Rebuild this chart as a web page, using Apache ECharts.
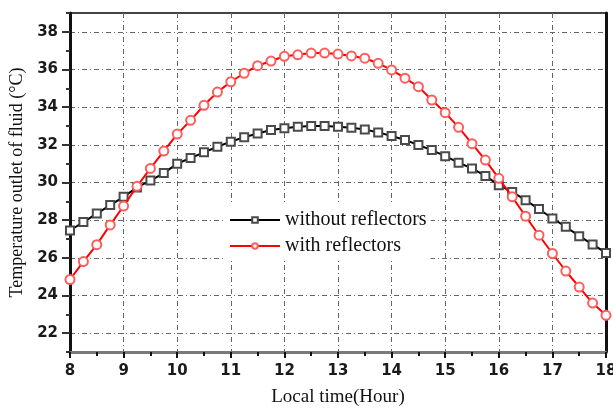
<!DOCTYPE html>
<html>
<head>
<meta charset="utf-8">
<script src="https://cdn.jsdelivr.net/npm/echarts@6/dist/echarts.min.js"></script>
<style>
  html, body { margin: 0; padding: 0; background: #fff; }
  #chart { width: 613px; height: 410px; }
</style>
</head>
<body>
<div id="chart"></div>
<script>
// Local time of day, every quarter hour (h)
const hours = [
  8.00, 8.25, 8.50, 8.75, 9.00, 9.25, 9.50, 9.75, 10.00, 10.25, 10.50,
  10.75, 11.00, 11.25, 11.50, 11.75, 12.00, 12.25, 12.50, 12.75, 13.00,
  13.25, 13.50, 13.75, 14.00, 14.25, 14.50, 14.75, 15.00, 15.25, 15.50,
  15.75, 16.00, 16.25, 16.50, 16.75, 17.00, 17.25, 17.50, 17.75, 18.00
];

// Outlet fluid temperature (°C)
const withoutReflectors = [
  27.45, 27.9, 28.35, 28.8, 29.24, 29.74, 30.1, 30.5, 31.0, 31.3, 31.6,
  31.9, 32.17, 32.4, 32.6, 32.79, 32.88, 32.96, 33.0, 33.0, 32.96,
  32.91, 32.82, 32.66, 32.47, 32.26, 31.99, 31.72, 31.4, 31.05, 30.75,
  30.35, 29.86, 29.5, 29.06, 28.59, 28.09, 27.65, 27.15, 26.71, 26.26
];
const withReflectors = [
  24.85, 25.8, 26.7, 27.75, 28.75, 29.8, 30.75, 31.67, 32.57, 33.3, 34.1,
  34.8, 35.35, 35.8, 36.2, 36.45, 36.7, 36.78, 36.87, 36.87, 36.82,
  36.72, 36.6, 36.33, 35.98, 35.54, 35.09, 34.38, 33.71, 32.93, 32.06,
  31.19, 30.22, 29.24, 28.21, 27.2, 26.23, 25.3, 24.45, 23.6, 22.95
];

// Axis ticks
const yMajorTicks = [22, 24, 26, 28, 30, 32, 34, 36, 38];
const yMinorTicks = [21, 23, 25, 27, 29, 31, 33, 35, 37, 39];

const pairs = (xs, ys) => xs.map((x, i) => [x, ys[i]]);

const tickFont = { fontFamily: 'DejaVu Sans', fontWeight: 'bold', fontSize: 15, color: '#1a1a1a' };
const serif = 'Liberation Serif';
const gridDash = { color: '#666', width: 1, type: [5, 3, 1, 3] };

const chart = echarts.init(document.getElementById('chart'), null, { renderer: 'canvas' });

chart.setOption({
  animation: false,
  backgroundColor: '#fff',
  grid: {
    left: 70, right: 7, top: 13, bottom: 58,
    outerBoundsMode: 'none',
    containLabel: false,
    show: true, borderColor: '#444', borderWidth: 2, backgroundColor: 'transparent'
  },
  legend: {
    orient: 'vertical',
    left: 225, top: 205,
    padding: [5, 4, 5, 4],
    backgroundColor: '#fff',
    itemWidth: 50, itemHeight: 7, itemGap: 6,
    textStyle: { fontFamily: serif, fontSize: 20, color: '#111', lineHeight: 16 },
    data: ['without reflectors', 'with reflectors']
  },
  xAxis: {
    type: 'value',
    min: 8, max: 18, interval: 1,
    name: 'Local time(Hour)',
    nameLocation: 'middle',
    nameGap: 36,
    nameTextStyle: { fontFamily: serif, fontSize: 19, color: '#111' },
    axisLine: { show: true, onZero: false, lineStyle: { color: '#7a7a7a', width: 3 } },
    axisTick: { show: true, inside: false, length: 6, lineStyle: { color: '#111', width: 2 } },
    minorTick: { show: true, splitNumber: 2, length: 4, lineStyle: { color: '#111', width: 2 } },
    axisLabel: Object.assign({ margin: 12 }, tickFont),
    splitLine: { show: true, lineStyle: gridDash }
  },
  yAxis: [
    {
      type: 'value',
      min: 21, max: 39,
      name: 'Temperature outlet of fluid (°C)',
      nameLocation: 'middle',
      nameGap: 44,
      nameTextStyle: { fontFamily: serif, fontSize: 18, color: '#111' },
      axisLine: { show: true, onZero: false, lineStyle: { color: '#111', width: 3 } },
      axisTick: { show: true, length: 8, customValues: yMajorTicks, lineStyle: { color: '#333', width: 2 } },
      axisLabel: Object.assign({ margin: 12, customValues: yMajorTicks }, tickFont),
      splitLine: { show: true, lineStyle: gridDash }
    },
    {
      type: 'value',
      min: 21, max: 39,
      position: 'left',
      axisLine: { show: false },
      axisTick: { show: true, length: 4, customValues: yMinorTicks, lineStyle: { color: '#333', width: 2 } },
      axisLabel: { show: false, customValues: yMinorTicks },
      splitLine: { show: false }
    },
    {
      type: 'value',
      min: 21, max: 39,
      position: 'right',
      axisLine: { show: true, onZero: false, lineStyle: { color: '#111', width: 3 } },
      axisTick: { show: false },
      axisLabel: { show: false },
      splitLine: { show: false }
    }
  ],
  series: [
    {
      name: 'without reflectors',
      type: 'line',
      data: pairs(hours, withoutReflectors),
      symbol: 'emptyRect',
      symbolSize: 8,
      lineStyle: { color: '#000', width: 2 },
      itemStyle: { color: '#4a4a4a', borderWidth: 1.2 },
      z: 3
    },
    {
      name: 'with reflectors',
      type: 'line',
      data: pairs(hours, withReflectors),
      symbol: 'emptyCircle',
      symbolSize: 9,
      lineStyle: { color: '#ff0000', width: 2 },
      itemStyle: { color: '#ff5c5c', borderWidth: 1.2 },
      z: 4
    }
  ]
});
</script>
</body>
</html>
